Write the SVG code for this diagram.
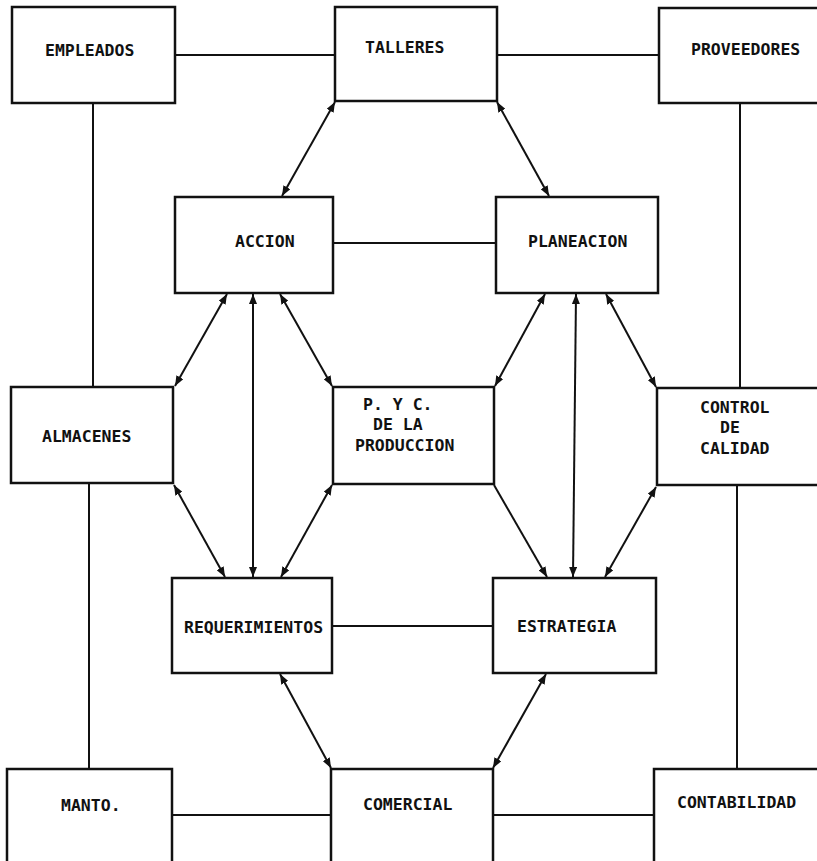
<svg xmlns="http://www.w3.org/2000/svg" width="817" height="861" viewBox="0 0 817 861">
  <style>
    .box { fill: #ffffff; stroke: #111111; stroke-width: 2.5; }
    .lbl { font-family: "DejaVu Sans Mono", "Liberation Mono", monospace; font-size: 16.5px; font-weight: bold; fill: #111111; }
    .ln { stroke: #111111; stroke-width: 2; fill: none; }
    .ar { stroke: #111111; stroke-width: 2; fill: none; marker-start: url(#ah); marker-end: url(#ah); }
    .ar1 { stroke: #111111; stroke-width: 2; fill: none; marker-end: url(#ah); }
  </style>
  <defs>
    <marker id="ah" viewBox="0 0 10 8" refX="10" refY="4" markerWidth="10" markerHeight="8" markerUnits="userSpaceOnUse" orient="auto-start-reverse">
      <path d="M0,0 L10,4 L0,8 Z" fill="#111111"/>
    </marker>
  </defs>
  <rect x="0" y="0" width="817" height="861" fill="#ffffff"/>

  <g id="connectors">
    <line class="ln" x1="175" y1="55" x2="335" y2="55"/>
    <line class="ln" x1="497" y1="55" x2="659" y2="55"/>
    <line class="ln" x1="93" y1="103" x2="93" y2="387"/>
    <line class="ln" x1="740" y1="103" x2="740" y2="388"/>
    <line class="ln" x1="333" y1="243" x2="496" y2="243"/>
    <line class="ln" x1="89" y1="483" x2="89" y2="769"/>
    <line class="ln" x1="737" y1="485" x2="737" y2="769"/>
    <line class="ln" x1="332" y1="626" x2="493" y2="626"/>
    <line class="ln" x1="172" y1="815" x2="331" y2="815"/>
    <line class="ln" x1="493" y1="815" x2="654" y2="815"/>

    <line class="ar" x1="335" y1="102" x2="282" y2="196"/>
    <line class="ar" x1="497" y1="102" x2="549" y2="196"/>
    <line class="ar" x1="227" y1="294" x2="175" y2="386"/>
    <line class="ar" x1="253" y1="294" x2="253" y2="577"/>
    <line class="ar" x1="280" y1="294" x2="332" y2="386"/>
    <line class="ar" x1="545" y1="294" x2="495" y2="386"/>
    <line class="ar" x1="576" y1="294" x2="573" y2="577"/>
    <line class="ar" x1="606" y1="294" x2="656" y2="387"/>
    <line class="ar" x1="174" y1="485" x2="225" y2="577"/>
    <line class="ar" x1="332" y1="485" x2="281" y2="577"/>
    <line class="ar1" x1="494" y1="485" x2="547" y2="577"/>
    <line class="ar" x1="656" y1="487" x2="605" y2="577"/>
    <line class="ar" x1="280" y1="674" x2="331" y2="768"/>
    <line class="ar" x1="546" y1="674" x2="493" y2="768"/>
  </g>

  <g id="empleados">
    <rect class="box" x="12" y="7" width="163" height="96"/>
    <text class="lbl" x="45" y="56">EMPLEADOS</text>
  </g>
  <g id="talleres">
    <rect class="box" x="335" y="7" width="162" height="94"/>
    <text class="lbl" x="365" y="53">TALLERES</text>
  </g>
  <g id="proveedores">
    <rect class="box" x="659" y="8" width="170" height="95"/>
    <text class="lbl" x="691" y="55">PROVEEDORES</text>
  </g>
  <g id="accion">
    <rect class="box" x="175" y="197" width="158" height="96"/>
    <text class="lbl" x="235" y="247">ACCION</text>
  </g>
  <g id="planeacion">
    <rect class="box" x="496" y="197" width="162" height="96"/>
    <text class="lbl" x="528" y="247">PLANEACION</text>
  </g>
  <g id="almacenes">
    <rect class="box" x="11" y="387" width="162" height="96"/>
    <text class="lbl" x="42" y="442">ALMACENES</text>
  </g>
  <g id="pyc">
    <rect class="box" x="333" y="387" width="161" height="97"/>
    <text class="lbl" x="363" y="410">P. Y C.</text>
    <text class="lbl" x="373" y="430">DE LA</text>
    <text class="lbl" x="355" y="451">PRODUCCION</text>
  </g>
  <g id="control">
    <rect class="box" x="657" y="388" width="170" height="97"/>
    <text class="lbl" x="700" y="413">CONTROL</text>
    <text class="lbl" x="720" y="433">DE</text>
    <text class="lbl" x="700" y="454">CALIDAD</text>
  </g>
  <g id="requerimientos">
    <rect class="box" x="172" y="578" width="160" height="95"/>
    <text class="lbl" x="184" y="633">REQUERIMIENTOS</text>
  </g>
  <g id="estrategia">
    <rect class="box" x="493" y="578" width="163" height="95"/>
    <text class="lbl" x="517" y="632">ESTRATEGIA</text>
  </g>
  <g id="manto">
    <rect class="box" x="7" y="769" width="165" height="110"/>
    <text class="lbl" x="61" y="811">MANTO.</text>
  </g>
  <g id="comercial">
    <rect class="box" x="331" y="769" width="162" height="110"/>
    <text class="lbl" x="363" y="810">COMERCIAL</text>
  </g>
  <g id="contabilidad">
    <rect class="box" x="654" y="769" width="175" height="110"/>
    <text class="lbl" x="677" y="808">CONTABILIDAD</text>
  </g>
</svg>
